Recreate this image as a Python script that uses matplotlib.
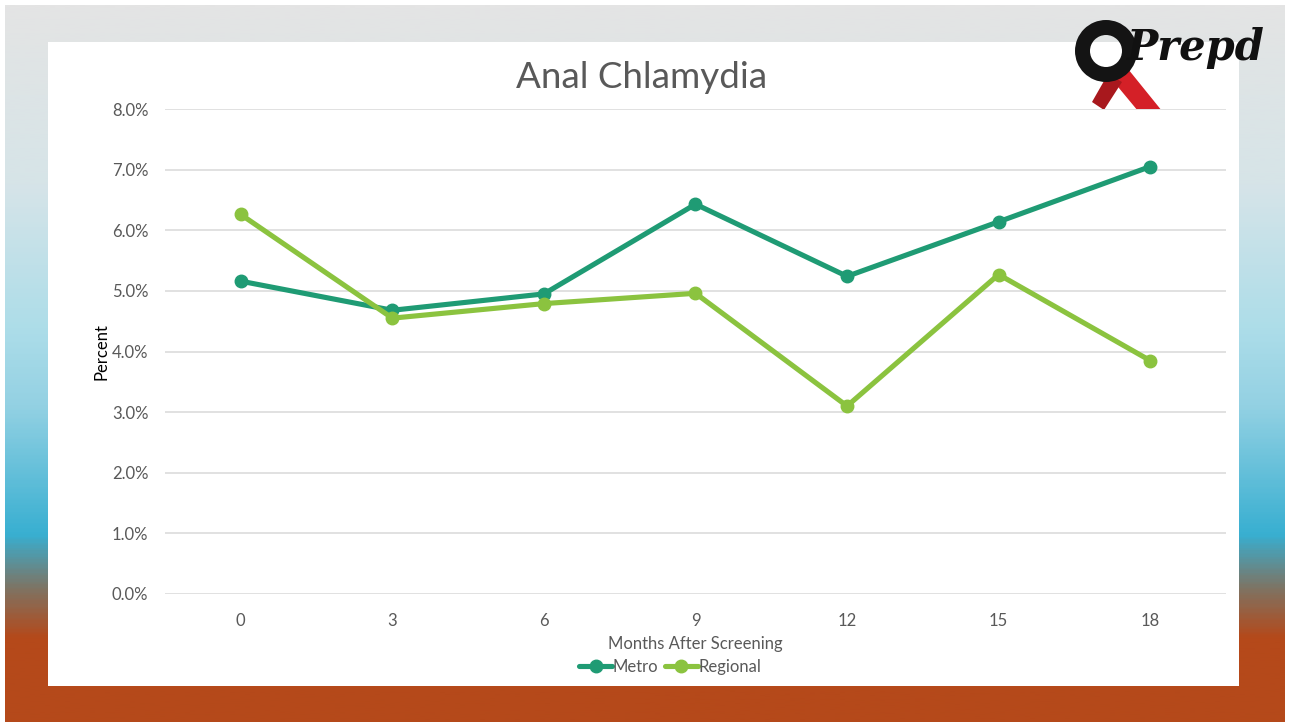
import numpy as np
import matplotlib
matplotlib.use("Agg")
import matplotlib.pyplot as plt
from matplotlib.colors import LinearSegmentedColormap
from matplotlib.patches import Rectangle, Wedge, Polygon
from matplotlib.ticker import FuncFormatter

# data
months = ["0", "3", "6", "9", "12", "15", "18"]
metro = [5.16, 4.68, 4.95, 6.43, 5.24, 6.14, 7.05]
regional = [6.26, 4.55, 4.79, 4.96, 3.10, 5.27, 3.85]
yticks = [0, 1, 2, 3, 4, 5, 6, 7, 8]

W, H = 1289, 722
plt.rcParams['font.family'] = ['Lato', 'DejaVu Sans']

fig = plt.figure(figsize=(W / 100, H / 100), dpi=100)

# slide background
bg = fig.add_axes([0, 0, 1, 1])
bg.set_xlim(0, W)
bg.set_ylim(H, 0)
bg.axis('off')

stops = [(0.0, '#e4e4e4'), (0.25, '#d6e4e8'), (0.45, '#addde9'),
         (0.56, '#93d1e3'), (0.74, '#38afd1'), (0.815, '#7e7464'),
         (0.885, '#b5491a'), (1.0, '#b5491a')]
cmap = LinearSegmentedColormap.from_list('slide', stops)
grad = np.linspace(0, 1, 400).reshape(-1, 1)
bg.imshow(grad, cmap=cmap, aspect='auto', extent=(5, 1285, 722, 5), zorder=0)

# white chart panel
bg.add_patch(Rectangle((48, 42), 1191, 644, facecolor='white', edgecolor='none', zorder=1))

# logo: ring + ribbon + wordmark
bg.add_patch(Polygon([[1104, 70], [1124, 64], [1162, 111], [1138, 111]],
                     closed=True, facecolor='#d42027', edgecolor='none', zorder=2))
bg.add_patch(Polygon([[1108, 74], [1122, 82], [1104, 110], [1092, 102]],
                     closed=True, facecolor='#a8181d', edgecolor='none', zorder=2))
bg.add_patch(Wedge((1106, 51), 31, 0, 360, width=15, facecolor='#141414',
                   edgecolor='none', zorder=3))
bg.text(1196, 48, "Prepd", fontsize=30, fontweight='bold', style='italic',
        family='DejaVu Serif', ha='center', va='center', color='#111111', zorder=3)

# chart axes
ax = fig.add_axes([165 / W, (H - 594) / H, (1226 - 165) / W, (594 - 109) / H])
x = np.arange(len(months))
ax.plot(x, metro, color='#1f9b74', lw=3.7, marker='o', ms=9, label='Metro',
        solid_capstyle='round', zorder=3)
ax.plot(x, regional, color='#8bc33f', lw=3.7, marker='o', ms=9, label='Regional',
        solid_capstyle='round', zorder=3)

ax.set_xlim(-0.5, len(months) - 0.5)
ax.set_ylim(0, 8)
ax.set_yticks(yticks)
ax.yaxis.set_major_formatter(FuncFormatter(lambda v, p: f"{v:.1f}%"))
ax.set_xticks(x)
ax.set_xticklabels(months)
ax.grid(axis='y', color='#d9d9d9', lw=1.1)
ax.set_axisbelow(True)
for s in ax.spines.values():
    s.set_visible(False)
ax.tick_params(length=0, labelsize=12, colors='#595959')
ax.tick_params(axis='y', pad=12)
ax.tick_params(axis='x', pad=14)
ax.set_xlabel("Months After Screening", fontsize=12, color='#595959', labelpad=5)
ax.set_ylabel("Percent", fontsize=12, color='black', labelpad=2)

fig.text(642 / W, 1 - 78 / H, "Anal Chlamydia", fontsize=26.5, color='#595959',
         ha='center', va='center')

fig.legend(loc='center', bbox_to_anchor=(670 / W, 1 - 667 / H), ncol=2, frameon=False,
           fontsize=12, handlelength=2.0, handletextpad=0.0, columnspacing=0.4,
           labelcolor='#595959')

fig.savefig("out.png", dpi=100)
